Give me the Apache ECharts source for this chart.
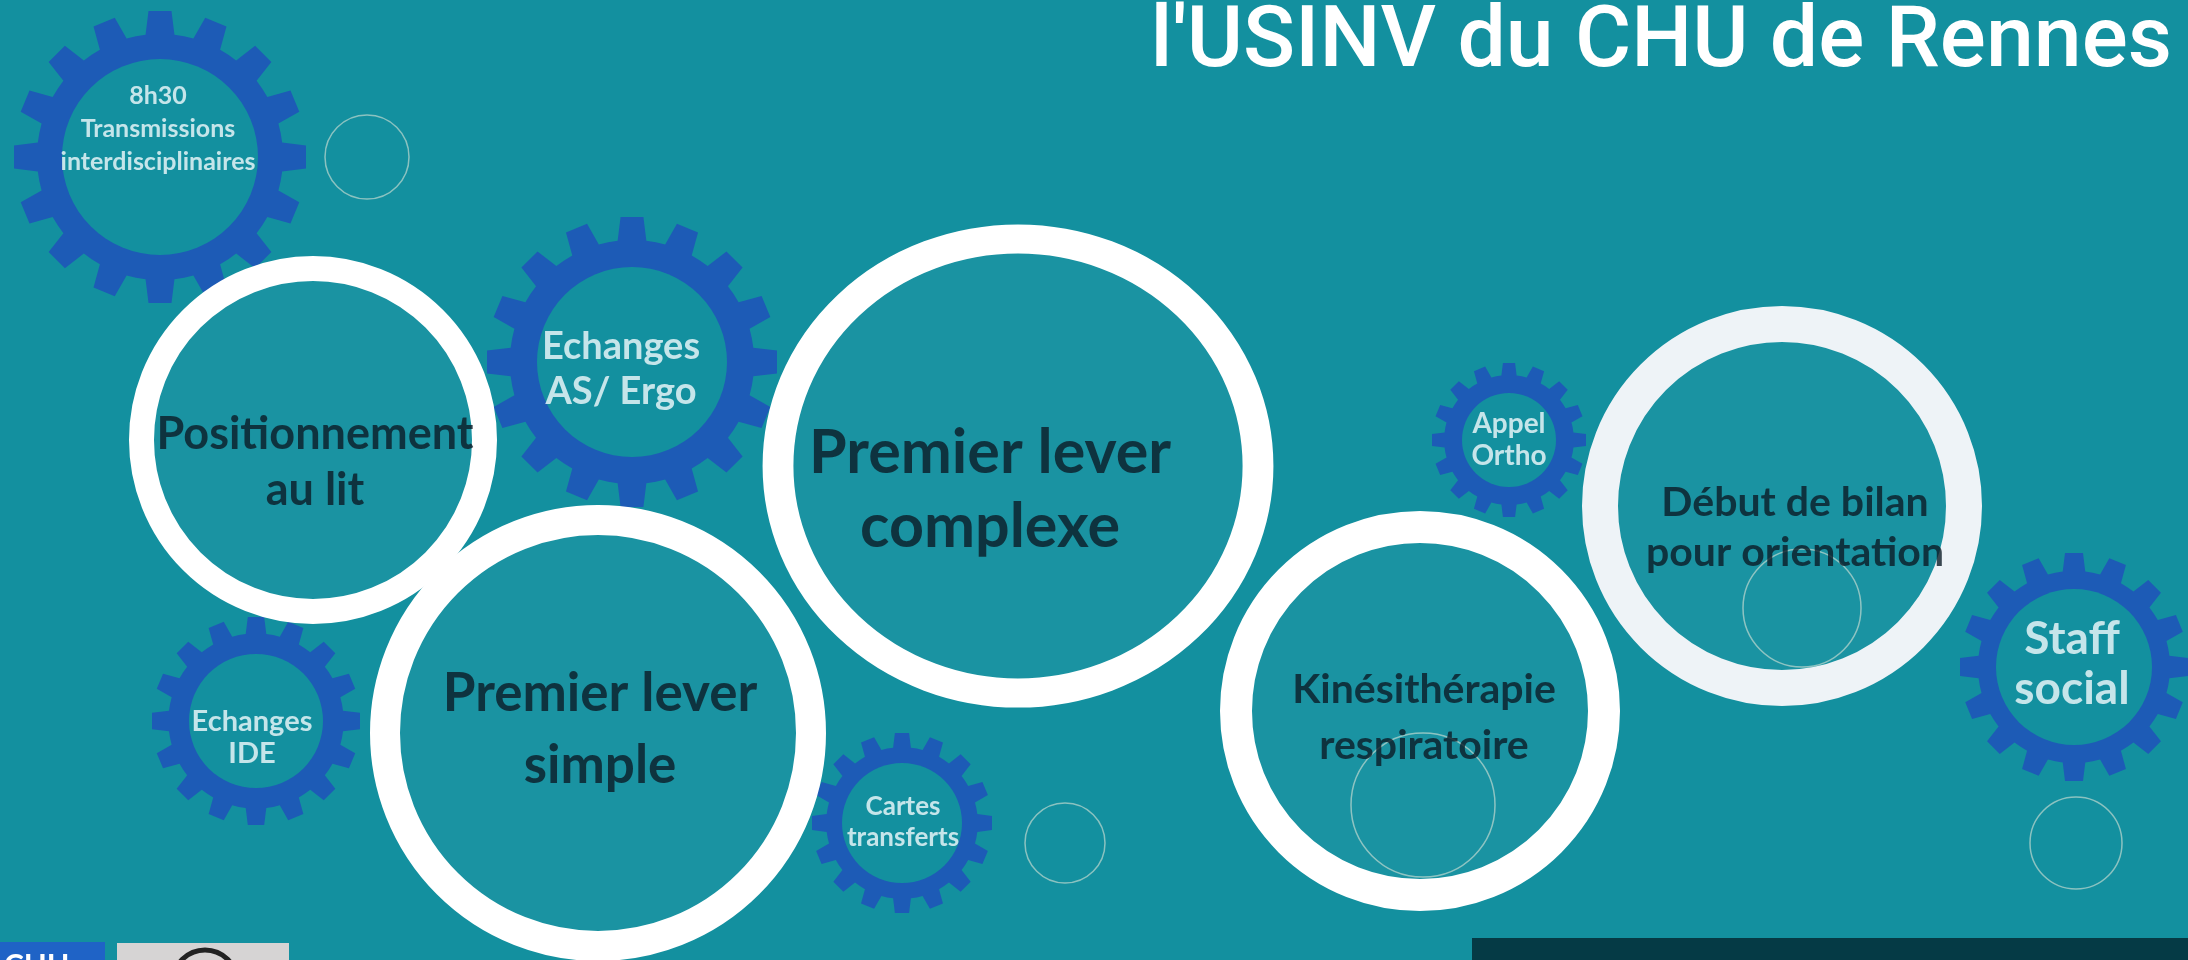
<!DOCTYPE html>
<html>
<head>
<meta charset="utf-8">
<script src="https://cdn.jsdelivr.net/npm/echarts@6/dist/echarts.min.js"></script>
<style>
html, body { margin: 0; padding: 0; background: #13909f; }
#main { width: 2188px; height: 960px; }
</style>
</head>
<body>
<div id="main"></div>
<script>
// gears (blue cogs with white text)
var gearText = ['8h30\nTransmissions\ninterdisciplinaires', 'Echanges\nAS/ Ergo', 'Echanges\nIDE', 'Cartes\ntransferts', 'Appel\nOrtho', 'Staff\nsocial'];
var gearX = [160, 632, 256, 902, 1509, 2074];
var gearY = [157, 362, 721, 823, 440, 667];
var gearOuter = [146, 145, 104, 90, 77, 114];
var gearInner = [98, 95, 67, 60, 47, 78];
var gearTextX = [158, 621, 252, 903, 1509, 2072];
var gearTextY = [129, 369, 738, 822, 440, 664];

// white rings (big steps)
var ringText = ['Positionnement\nau lit', 'Premier lever\ncomplexe', 'Premier lever\nsimple', 'Kinésithérapie\nrespiratoire', 'Début de bilan\npour orientation'];
var ringX = [313, 1018, 598, 1420, 1782];
var ringY = [440, 466, 733, 711, 506];
var ringRx = [184, 255, 228, 200, 200];
var ringRy = [184, 242, 228, 200, 200];
var ringTextX = [315, 990, 600, 1424, 1795];
var ringTextY = [462, 490, 730, 718, 528];

// thin outline circles
var dotX = [367, 1065, 1423, 1802, 2076];
var dotY = [157, 843, 805, 608, 843];
var dotR = [42, 40, 72, 59, 46];

var bg = '#13909f';
var gearFont = [25, 38, 29, 26, 28, 46];
var gearLine = [33, 45, 32, 31, 32, 50];
var ringFont = [45, 61, 53, 41, 41];
var ringLine = [56, 74, 72, 56, 50];
var ringBorder = [25, 30, 30, 32, 36];

function gearPath(teeth) {
	var step = 2 * Math.PI / teeth, d = '';
	for (var i = 0; i < teeth; i++) {
		var a = i * step;
		var pts = [[a - 0.5 * step, 84], [a - 0.3 * step, 84], [a - 0.2 * step, 100], [a + 0.2 * step, 100], [a + 0.3 * step, 84]];
		for (var j = 0; j < pts.length; j++) {
			var x = 100 + pts[j][1] * Math.cos(pts[j][0]);
			var y = 100 + pts[j][1] * Math.sin(pts[j][0]);
			d += (d ? 'L' : 'M') + x.toFixed(2) + ' ' + y.toFixed(2);
		}
	}
	return 'path://' + d + 'Z';
}

var myChart = echarts.init(document.getElementById('main'));

var gearData = [], holeData = [], gearLabels = [];
for (var i = 0; i < gearText.length; i++) {
	gearData.push({ value: [gearX[i], gearY[i]], symbolSize: gearOuter[i] * 2 });
	holeData.push({ value: [gearX[i], gearY[i]], symbolSize: gearInner[i] * 2 });
	gearLabels.push({
		value: [gearTextX[i], gearTextY[i]], name: gearText[i],
		label: { fontSize: gearFont[i], lineHeight: gearLine[i] }
	});
}
var ringData = [], ringLabels = [];
for (var i = 0; i < ringText.length; i++) {
	ringData.push({
		value: [ringX[i], ringY[i]],
		symbolSize: [ringRx[i] * 2 - ringBorder[i], ringRy[i] * 2 - ringBorder[i]],
		itemStyle: { borderWidth: ringBorder[i], borderColor: i == 4 ? '#eef3f7' : '#ffffff' }
	});
	ringLabels.push({
		value: [ringTextX[i], ringTextY[i]], name: ringText[i],
		label: { fontSize: ringFont[i], lineHeight: ringLine[i] }
	});
}
var dotData = [];
for (var i = 0; i < dotX.length; i++) {
	dotData.push({ value: [dotX[i], dotY[i]], symbolSize: dotR[i] * 2 });
}

option = {
	backgroundColor: bg,
	animation: false,
	title: {
		text: "l'USINV du CHU de Rennes",
		right: 11,
		top: -4,
		textStyle: { color: '#ffffff', fontSize: 86, fontWeight: 500, fontFamily: 'Roboto' }
	},
	grid: { left: 0, right: 0, top: 0, bottom: 0 },
	xAxis: { type: 'value', min: 0, max: 2188, show: false },
	yAxis: { type: 'value', min: 0, max: 960, inverse: true, show: false },
	graphic: [
		{ type: 'rect', shape: { x: 0, y: 942, width: 105, height: 18 }, style: { fill: '#1f63c6' }, z: 100 },
		{ type: 'text', style: { x: 4, y: 951, text: 'CHU', fill: '#ffffff', font: 'bold 30px Lato' }, z: 101 },
		{ type: 'rect', shape: { x: 117, y: 943, width: 172, height: 17 }, style: { fill: '#d6d4d4' }, z: 100 },
		{ type: 'circle', shape: { cx: 205, cy: 982, r: 32 }, style: { fill: 'none', stroke: '#222', lineWidth: 5 }, z: 101 },
		{ type: 'rect', shape: { x: 1472, y: 938, width: 716, height: 22 }, style: { fill: '#053a45' }, z: 100 }
	],
	series: [
		{
			type: 'scatter', z: 1, silent: true,
			symbol: 'circle',
			itemStyle: { color: 'rgba(0,0,0,0)', borderColor: 'rgba(220,228,215,0.75)', borderWidth: 1.5 },
			data: dotData
		},
		{
			type: 'scatter', z: 2, silent: true,
			symbol: gearPath(16),
			itemStyle: { color: '#1d5bb6', opacity: 1 },
			data: gearData
		},
		{
			type: 'scatter', z: 3, silent: true,
			symbol: 'circle',
			itemStyle: { color: bg, opacity: 1 },
			data: holeData
		},
		{
			type: 'scatter', z: 4, silent: true,
			symbol: 'circle',
			itemStyle: { color: 'rgba(255,255,255,0.03)', opacity: 1 },
			data: ringData
		},
		{
			type: 'scatter', z: 5, silent: true,
			symbolSize: 1,
			itemStyle: { color: 'rgba(0,0,0,0)' },
			label: {
				show: true, position: 'inside', formatter: '{b}',
				color: '#f2fafc', fontFamily: 'Lato', fontWeight: 'bold', align: 'center'
			},
			data: gearLabels
		},
		{
			type: 'scatter', z: 5, silent: true,
			symbolSize: 1,
			itemStyle: { color: 'rgba(0,0,0,0)' },
			label: {
				show: true, position: 'inside', formatter: '{b}',
				color: '#0b1c27', fontFamily: 'Lato', fontWeight: 'bold', align: 'center'
			},
			data: ringLabels
		}
	]
};
myChart.setOption(option);
</script>
</body>
</html>
